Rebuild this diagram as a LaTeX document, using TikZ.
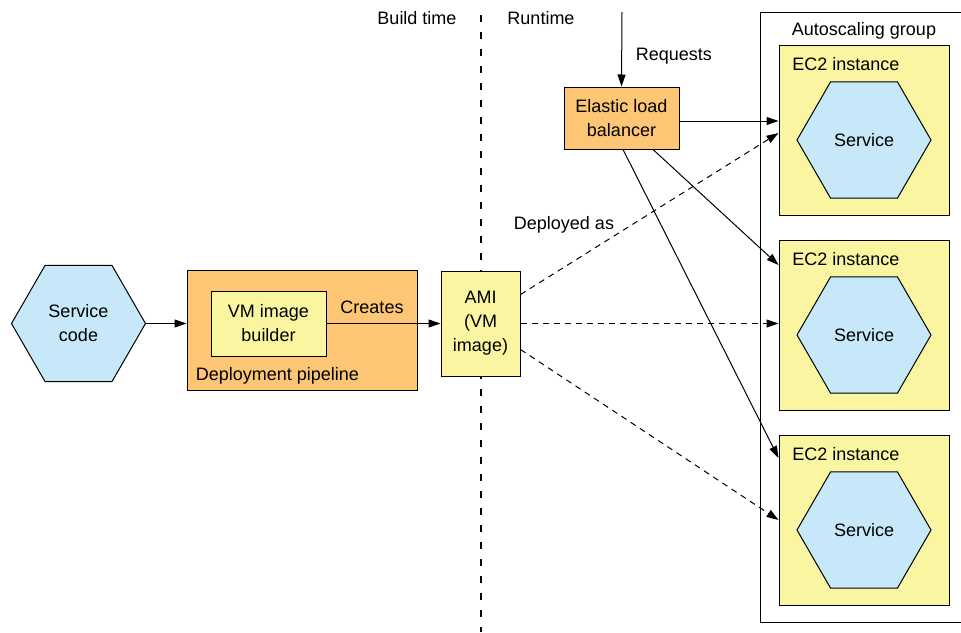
\documentclass[tikz,border=0pt]{standalone}
\usepackage{fontspec}
\setmainfont{Liberation Sans}
\usepackage{tikz}
\usetikzlibrary{shapes.geometric,arrows.meta,calc}
\definecolor{hexblue}{RGB}{198,232,248}
\definecolor{boxorange}{RGB}{253,198,116}
\definecolor{boxyellow}{RGB}{250,245,160}

\begin{document}
\begin{tikzpicture}[x=1pt, y=-1pt, line width=1pt,
    every node/.style={font=\fontsize{18}{24}\selectfont, align=center},
    hexa/.style={regular polygon, regular polygon sides=6, draw, fill=hexblue,
      minimum size=134pt, inner sep=0pt},
    box/.style={rectangle, draw, inner sep=0pt},
    arr/.style={-{Triangle[length=12pt,width=8pt]}},
    darr/.style={arr, dash pattern=on 6pt off 5pt}]
        \useasboundingbox (0,0) rectangle (961,632);

        % Build time / runtime split
        \coordinate (top) at (481,15);
        \coordinate (bot) at (481,632);
        \draw[line width=1.2pt, dash pattern=on 7pt off 10pt] (top) -- (bot);
        \node (bt) at (417,18) {Build time};
        \node (rt) at (541,18) {Runtime};

        % Build side
        \node[hexa] (sc) at (78.5,323.5) {Service\\code};
        \node[box, fill=boxorange, minimum width=230pt, minimum height=120pt] (pipe) at (302,330) {};
        \node[anchor=west] (pipelbl) at (192,376) {Deployment pipeline};
        \node[box, fill=boxyellow, minimum width=115pt, minimum height=65pt] (vmb) at (268.5,323.5) {VM image\\builder};
        \node[box, fill=boxyellow, minimum width=79pt, minimum height=105pt] (ami) at (480.5,323.5) {AMI\\(VM\\image)};
        \node (creates) at (372,307) {Creates};

        % Runtime side
        \coordinate (req) at (622,12);
        \node[box, fill=boxorange, minimum width=115pt, minimum height=62pt] (elb) at (621.5,118) {Elastic load\\balancer};
        \node[anchor=west] (reqlbl) at (632,56) {Requests};
        \node (depl) at (564,225) {Deployed as};

        % Autoscaling group (right side runs off the page)
        \draw (965,12) -| (760,622) -- (965,622);
        \node (asg) at (864,31) {Autoscaling group};

        % EC2 instances
        \foreach \n/\y in {a/130,b/325,c/520} {
          \node[box, fill=boxyellow, minimum size=170pt] (ec2\n) at (864,\y) {};
          \node[anchor=west] at ($(ec2\n.north west)+(10,20)$) {EC2 instance};
          \node[hexa] (sv\n) at ($(ec2\n.center)+(0,10)$) {Service};
        }

        % Connectors
        \draw[arr] (sc.east) -- (sc.east -| pipe.west);
        \draw[arr] (vmb.east) -- (vmb.east -| ami.west);
        \draw[arr] (req) -- (elb.north);
        \draw[arr] ([yshift=-3pt]elb.east) -- ([yshift=-3pt]elb.east -| ec2a.west);
        \draw[arr] ([xshift=31.5pt]elb.south) -- ([yshift=60pt]ec2b.west);
        \draw[arr] ([xshift=1.5pt]elb.south) -- ([yshift=62pt]ec2c.west);
        \draw[darr] ([yshift=29pt]ami.east) -- ([yshift=-3pt]ec2a.west);
        \draw[darr] (ami.east) -- (ami.east -| ec2b.west);
        \draw[darr] ([yshift=-26pt]ami.east) -- (ec2c.west);
      \end{tikzpicture}
\end{document}
